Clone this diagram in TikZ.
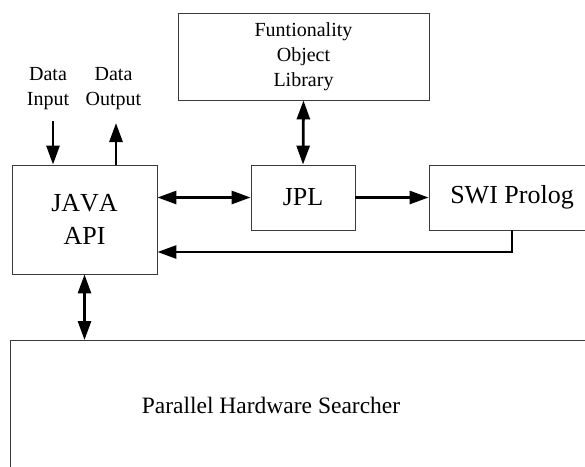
\documentclass[tikz,border=0pt]{standalone}
\usepackage{fontspec}
\setmainfont{Liberation Serif}[Kerning=Off]
\usetikzlibrary{arrows.meta,calc}
\definecolor{ink}{HTML}{000000}
\definecolor{edge}{HTML}{3A3A3A}
\newcommand{\PicW}{585}
\newcommand{\PicH}{466}
\newcommand{\BoxLine}{0.9pt}

\begin{document}
\begin{tikzpicture}[x=1pt, y=-1pt, ink,
  box/.style={draw=edge, line width=\BoxLine, rectangle, inner sep=0pt, align=center},
  bigtxt/.style={font=\fontsize{26}{33}\selectfont},
  smalltxt/.style={font=\fontsize{20}{25}\selectfont, align=center},
  link/.style={line width=2.8pt, -{Triangle[length=19pt, width=13pt]}},
  twoway/.style={line width=2.8pt, {Triangle[length=19pt, width=13pt]}-{Triangle[length=19pt, width=13pt]}}]

% --- Page: the picture is cut at its right and bottom edges -----------------
\useasboundingbox (0,0) rectangle (\PicW,\PicH);
\clip (0,0) rectangle (\PicW,\PicH);

% --- Blocks -----------------------------------------------------------------
\node[box, smalltxt, minimum width=251pt, minimum height=87pt] (func) at (303.5,56.5) {Funtionality\\Object\\Library};
\node[box, bigtxt, minimum width=145pt, minimum height=109pt] (java) at (84.5,219.5) {JAVA\\API};
\node[box, bigtxt, minimum width=104pt, minimum height=65pt] (jpl) at (303,197.5) {JPL};
\node[box, bigtxt, minimum width=166pt, minimum height=65pt] (swi) at (512,197.5) {SWI Prolog};
\node[box, minimum width=600pt, minimum height=150pt, anchor=north west] (phs) at (10,340) {};
\node[font=\fontsize{23.5}{28}\selectfont] (phslabel) at (271,405) {Parallel Hardware Searcher};

% --- Data in and out ----------------------------------------------------------
\node[smalltxt] (din) at (48,89) {Data\\Input};
\node[smalltxt] (dout) at (113.5,89) {Data\\Output};
\coordinate (inTail) at (53,121);
\coordinate (outHead) at (116,123);
\draw[link] (inTail) -- (inTail |- java.north);
\draw[link] (outHead |- java.north) -- (outHead);

% --- Links between the blocks --------------------------------------------------
\draw[twoway] (func.south) -- (jpl.north);
\draw[twoway] (java.east |- jpl.west) -- (jpl.west);
\draw[link] (jpl.east) -- (swi.west);
\draw[link] (swi.south) |- ([yshift=-32.5pt]java.east);
\draw[twoway] (java.south) -- (java.south |- phs.north);

\end{tikzpicture}
\end{document}
